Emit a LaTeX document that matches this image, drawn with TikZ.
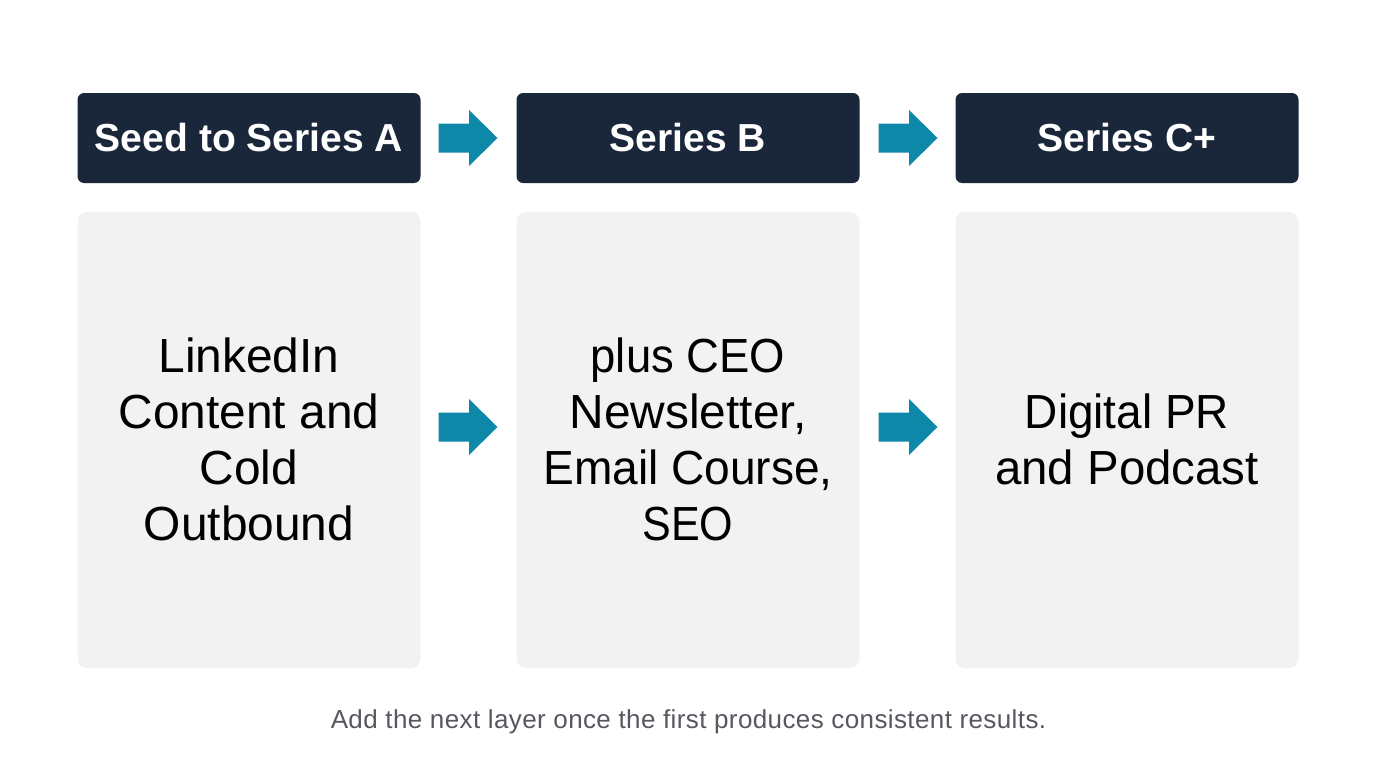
\documentclass[tikz,border=0pt]{standalone}
\usepackage{fontspec}
\setmainfont{Liberation Sans}
\newfontfamily\capfont[LetterSpace=1.5]{Liberation Sans}
\definecolor{navy}{HTML}{1A273B}
\definecolor{panel}{HTML}{F2F2F2}
\definecolor{teal}{HTML}{0E88A8}
\definecolor{cap}{HTML}{55595F}
\newcommand{\sqz}[2]{\scalebox{#1}[1]{#2}}
\tikzset{
 x=0.75pt,y=-0.75pt,
 head/.style={fill=navy,rounded corners=5pt,minimum width=257.25pt,minimum height=67.5pt,inner sep=0pt,text=white,font=\fontsize{29.3pt}{35pt}\selectfont\bfseries,anchor=center},
 body/.style={fill=panel,rounded corners=7pt,minimum width=257.25pt,minimum height=342pt,inner sep=0pt},
 bodytext/.style={font=\fontsize{35.9pt}{42pt}\selectfont,align=center,text=black,anchor=center},
 arr/.style={fill=teal}
}
\newcommand{\flowarrow}[2]{\fill[arr] (#1-29.5,#2-14.5) -- (#1+1,#2-14.5) -- (#1+1,#2-28) -- (#1+29.5,#2) -- (#1+1,#2+28) -- (#1+1,#2+14.5) -- (#1-29.5,#2+14.5) -- cycle;}
\begin{document}
\begin{tikzpicture}
\useasboundingbox (0,0) rectangle (1376,768);
\fill[white] (0,0) rectangle (1376,768);
\node[head] (h1) at (249,138) {Seed to Series A};
\node[head] (h2) at (688,138) {Series B};
\node[head] (h3) at (1127,138) {Series C+};
\node[body] (b1) at (249,440) {};
\node[body] (b2) at (688,440) {};
\node[body] (b3) at (1127,440) {};
\node[bodytext] (t1) at (249,439) {LinkedIn\\Content and\\Cold\\Outbound};
\node[bodytext] (t2) at (688,439) {\sqz{0.95}{plus CEO}\\Newsletter,\\\sqz{0.963}{Email Course,}\\\sqz{0.9}{SEO}};
\node[bodytext] (t3) at (1127,439) {\sqz{0.96}{Digital PR}\\\sqz{0.99}{and Podcast}};
\flowarrow{468}{138}
\flowarrow{908}{138}
\flowarrow{468}{427}
\flowarrow{908}{427}
\node[font=\capfont\fontsize{19.5pt}{22pt}\selectfont,text=cap] (c) at (688.5,721.5) {Add the next layer once the first produces consistent results.};
\end{tikzpicture}
\end{document}
